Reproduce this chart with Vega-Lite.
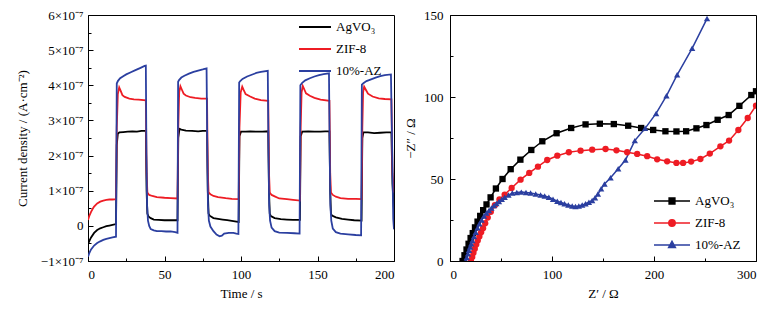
{
"$schema": "https://vega.github.io/schema/vega-lite/v6.json",
"padding": {"left": 15, "top": 8, "right": 5, "bottom": 5},
"bounds": "flush",
"spacing": 56,
"config": {
  "font": "Liberation Serif",
  "view": {"stroke": "#000000", "strokeWidth": 1},
  "axis": {"grid": false, "labelFontSize": 13, "titleFontSize": 13, "titleFontWeight": "normal", "labelColor": "#000", "titleColor": "#000", "domainColor": "#000", "tickColor": "#000", "labelFont": "Liberation Serif", "titleFont": "Liberation Serif"},
  "legend": {"labelFont": "Liberation Serif", "labelFontSize": 13, "labelColor": "#000"}
},
"datasets": {
  "agvo3_it": [
    {"t":0,"j":-0.52e-7},{"t":1,"j":-0.42e-7},{"t":2,"j":-0.33e-7},{"t":4,"j":-0.2e-7},{"t":6,"j":-0.12e-7},{"t":8,"j":-0.07e-7},{"t":10,"j":-0.04e-7},{"t":12,"j":-0.01e-7},{"t":14,"j":0.01e-7},{"t":16,"j":0.03e-7},{"t":18.3,"j":0.05e-7},{"t":18.8,"j":2.3e-7},{"t":19.5,"j":2.62e-7},{"t":20.5,"j":2.66e-7},{"t":23,"j":2.67e-7},{"t":26,"j":2.68e-7},{"t":29,"j":2.69e-7},{"t":32,"j":2.68e-7},{"t":35,"j":2.7e-7},{"t":37.8,"j":2.7e-7},{"t":38.3,"j":1.0e-7},{"t":38.8,"j":0.35e-7},{"t":39.5,"j":0.27e-7},{"t":41,"j":0.22e-7},{"t":43,"j":0.18e-7},{"t":46,"j":0.17e-7},{"t":50,"j":0.16e-7},{"t":54,"j":0.16e-7},{"t":58.5,"j":0.16e-7},
    {"t":59,"j":2.5e-7},{"t":59.8,"j":2.76e-7},{"t":61,"j":2.74e-7},{"t":64,"j":2.71e-7},{"t":68,"j":2.7e-7},{"t":72,"j":2.69e-7},{"t":75,"j":2.7e-7},{"t":77.8,"j":2.7e-7},{"t":78.3,"j":1.0e-7},{"t":78.8,"j":0.35e-7},{"t":79.5,"j":0.29e-7},{"t":82,"j":0.22e-7},{"t":85,"j":0.2e-7},{"t":88,"j":0.18e-7},{"t":91,"j":0.16e-7},{"t":94,"j":0.14e-7},{"t":97,"j":0.12e-7},{"t":98.5,"j":0.11e-7},
    {"t":99,"j":2.55e-7},{"t":100,"j":2.68e-7},{"t":103,"j":2.68e-7},{"t":106,"j":2.69e-7},{"t":110,"j":2.68e-7},{"t":114,"j":2.68e-7},{"t":117.8,"j":2.69e-7},{"t":118.3,"j":1.0e-7},{"t":118.8,"j":0.35e-7},{"t":119.5,"j":0.28e-7},{"t":122,"j":0.22e-7},{"t":126,"j":0.19e-7},{"t":130,"j":0.18e-7},{"t":134,"j":0.17e-7},{"t":138.5,"j":0.17e-7},
    {"t":139,"j":2.55e-7},{"t":140,"j":2.68e-7},{"t":144,"j":2.69e-7},{"t":148,"j":2.68e-7},{"t":152,"j":2.68e-7},{"t":155,"j":2.69e-7},{"t":157.8,"j":2.69e-7},{"t":158.3,"j":1.0e-7},{"t":158.8,"j":0.35e-7},{"t":159.5,"j":0.29e-7},{"t":162,"j":0.24e-7},{"t":166,"j":0.2e-7},{"t":170,"j":0.18e-7},{"t":174,"j":0.16e-7},{"t":178.8,"j":0.15e-7},
    {"t":179.3,"j":2.5e-7},{"t":180,"j":2.66e-7},{"t":183,"j":2.66e-7},{"t":187,"j":2.64e-7},{"t":191,"j":2.65e-7},{"t":195,"j":2.66e-7},{"t":198.3,"j":2.66e-7},{"t":199,"j":1.2e-7},{"t":200,"j":0.4e-7}
  ],
  "zif8_it": [
    {"t":0,"j":0.17e-7},{"t":1,"j":0.3e-7},{"t":2,"j":0.4e-7},{"t":3,"j":0.48e-7},{"t":4,"j":0.55e-7},{"t":6,"j":0.64e-7},{"t":8,"j":0.69e-7},{"t":10,"j":0.72e-7},{"t":12,"j":0.74e-7},{"t":14,"j":0.75e-7},{"t":16,"j":0.75e-7},{"t":18.3,"j":0.76e-7},{"t":18.8,"j":2.8e-7},{"t":19.5,"j":3.75e-7},{"t":20.4,"j":3.94e-7},{"t":21.3,"j":3.85e-7},{"t":22.5,"j":3.72e-7},{"t":24,"j":3.67e-7},{"t":27,"j":3.62e-7},{"t":30,"j":3.6e-7},{"t":33,"j":3.59e-7},{"t":37.8,"j":3.57e-7},{"t":38.3,"j":1.5e-7},{"t":38.8,"j":0.95e-7},{"t":40,"j":0.88e-7},{"t":42,"j":0.85e-7},{"t":45,"j":0.82e-7},{"t":50,"j":0.8e-7},{"t":54,"j":0.79e-7},{"t":58.5,"j":0.78e-7},
    {"t":59,"j":2.8e-7},{"t":59.6,"j":3.8e-7},{"t":60.4,"j":3.97e-7},{"t":61.3,"j":3.88e-7},{"t":62.5,"j":3.76e-7},{"t":64,"j":3.71e-7},{"t":67,"j":3.66e-7},{"t":70,"j":3.64e-7},{"t":74,"j":3.62e-7},{"t":77.8,"j":3.62e-7},{"t":78.3,"j":1.5e-7},{"t":78.8,"j":0.95e-7},{"t":80,"j":0.9e-7},{"t":82,"j":0.85e-7},{"t":85,"j":0.82e-7},{"t":90,"j":0.79e-7},{"t":94,"j":0.77e-7},{"t":98.5,"j":0.76e-7},
    {"t":99,"j":2.8e-7},{"t":99.8,"j":3.8e-7},{"t":100.8,"j":3.96e-7},{"t":101.8,"j":3.86e-7},{"t":103,"j":3.75e-7},{"t":106,"j":3.68e-7},{"t":109,"j":3.62e-7},{"t":113,"j":3.58e-7},{"t":117.8,"j":3.56e-7},{"t":118.3,"j":1.5e-7},{"t":118.8,"j":0.95e-7},{"t":120,"j":0.88e-7},{"t":122,"j":0.84e-7},{"t":125,"j":0.78e-7},{"t":130,"j":0.76e-7},{"t":134,"j":0.74e-7},{"t":138.5,"j":0.72e-7},
    {"t":139,"j":2.8e-7},{"t":139.6,"j":3.8e-7},{"t":140.4,"j":3.98e-7},{"t":141.4,"j":3.88e-7},{"t":142.5,"j":3.77e-7},{"t":145,"j":3.7e-7},{"t":148,"j":3.64e-7},{"t":152,"j":3.59e-7},{"t":157.8,"j":3.56e-7},{"t":158.3,"j":1.5e-7},{"t":158.8,"j":0.95e-7},{"t":160,"j":0.88e-7},{"t":162,"j":0.83e-7},{"t":165,"j":0.79e-7},{"t":170,"j":0.77e-7},{"t":175,"j":0.77e-7},{"t":178.8,"j":0.76e-7},
    {"t":179.3,"j":2.8e-7},{"t":179.8,"j":3.8e-7},{"t":180.5,"j":3.96e-7},{"t":181.5,"j":3.88e-7},{"t":183,"j":3.76e-7},{"t":186,"j":3.68e-7},{"t":190,"j":3.63e-7},{"t":194,"j":3.61e-7},{"t":198.3,"j":3.6e-7},{"t":199,"j":1.5e-7},{"t":200,"j":0.95e-7}
  ],
  "az_it": [
    {"t":0,"j":-0.88e-7},{"t":1,"j":-0.76e-7},{"t":2,"j":-0.67e-7},{"t":4,"j":-0.56e-7},{"t":6,"j":-0.49e-7},{"t":8,"j":-0.44e-7},{"t":10,"j":-0.4e-7},{"t":12,"j":-0.37e-7},{"t":14,"j":-0.35e-7},{"t":16,"j":-0.33e-7},{"t":18.3,"j":-0.31e-7},{"t":18.8,"j":4.05e-7},{"t":19.5,"j":4.12e-7},{"t":21,"j":4.2e-7},{"t":23,"j":4.26e-7},{"t":25,"j":4.31e-7},{"t":28,"j":4.37e-7},{"t":31,"j":4.43e-7},{"t":34,"j":4.49e-7},{"t":37,"j":4.55e-7},{"t":37.8,"j":4.56e-7},{"t":38.2,"j":2.0e-7},{"t":38.6,"j":0.6e-7},{"t":39.2,"j":0.15e-7},{"t":40,"j":0.0},{"t":41,"j":-0.09e-7},{"t":43,"j":-0.13e-7},{"t":45,"j":-0.15e-7},{"t":48,"j":-0.15e-7},{"t":51,"j":-0.16e-7},{"t":54,"j":-0.16e-7},{"t":57,"j":-0.18e-7},{"t":58.5,"j":-0.2e-7},
    {"t":58.9,"j":4.1e-7},{"t":59.5,"j":4.15e-7},{"t":61,"j":4.22e-7},{"t":63,"j":4.27e-7},{"t":66,"j":4.33e-7},{"t":69,"j":4.38e-7},{"t":72,"j":4.42e-7},{"t":75,"j":4.45e-7},{"t":77.5,"j":4.48e-7},{"t":78,"j":2.0e-7},{"t":78.4,"j":0.6e-7},{"t":79,"j":0.15e-7},{"t":80,"j":-0.02e-7},{"t":82,"j":-0.15e-7},{"t":84,"j":-0.25e-7},{"t":86,"j":-0.3e-7},{"t":87.5,"j":-0.28e-7},{"t":89,"j":-0.22e-7},{"t":92,"j":-0.2e-7},{"t":95,"j":-0.2e-7},{"t":97,"j":-0.22e-7},{"t":98.3,"j":-0.23e-7},
    {"t":98.8,"j":4.08e-7},{"t":99.5,"j":4.12e-7},{"t":101,"j":4.18e-7},{"t":104,"j":4.25e-7},{"t":107,"j":4.3e-7},{"t":110,"j":4.35e-7},{"t":113,"j":4.38e-7},{"t":117.5,"j":4.41e-7},{"t":118,"j":2.0e-7},{"t":118.4,"j":0.6e-7},{"t":119,"j":0.15e-7},{"t":120,"j":-0.05e-7},{"t":122,"j":-0.15e-7},{"t":125,"j":-0.19e-7},{"t":130,"j":-0.2e-7},{"t":135,"j":-0.21e-7},{"t":138.3,"j":-0.22e-7},
    {"t":138.8,"j":4.0e-7},{"t":140,"j":4.07e-7},{"t":142,"j":4.14e-7},{"t":145,"j":4.2e-7},{"t":148,"j":4.25e-7},{"t":151,"j":4.29e-7},{"t":154,"j":4.32e-7},{"t":157.5,"j":4.34e-7},{"t":158,"j":2.0e-7},{"t":158.4,"j":0.6e-7},{"t":159,"j":0.15e-7},{"t":160,"j":-0.08e-7},{"t":162,"j":-0.18e-7},{"t":165,"j":-0.22e-7},{"t":170,"j":-0.24e-7},{"t":175,"j":-0.26e-7},{"t":178.5,"j":-0.27e-7},
    {"t":179,"j":4.02e-7},{"t":180,"j":4.06e-7},{"t":182,"j":4.12e-7},{"t":185,"j":4.17e-7},{"t":188,"j":4.22e-7},{"t":191,"j":4.26e-7},{"t":194,"j":4.29e-7},{"t":198,"j":4.31e-7},{"t":198.7,"j":2.5e-7},{"t":199.5,"j":0.2e-7},{"t":200,"j":-0.1e-7}
  ],
  "agvo3_eis": [
    {"zr":12.3,"zi":0},{"zr":14.2,"zi":3.5},{"zr":16.2,"zi":7},{"zr":18.2,"zi":10.5},{"zr":20.2,"zi":14},{"zr":22.3,"zi":17},{"zr":24.5,"zi":20.5},{"zr":27,"zi":24},{"zr":29.6,"zi":27.5},{"zr":32.5,"zi":31},{"zr":35.8,"zi":34.5},{"zr":39.8,"zi":38.8},{"zr":45,"zi":44.2},{"zr":51.5,"zi":50},{"zr":59.5,"zi":56},{"zr":69,"zi":61.8},{"zr":79.7,"zi":67.7},{"zr":90.5,"zi":73},{"zr":104.5,"zi":77.9},{"zr":118.8,"zi":81.1},{"zr":132.9,"zi":83.3},{"zr":146.9,"zi":83.7},{"zr":160.6,"zi":83.5},{"zr":174.7,"zi":82.5},{"zr":187.4,"zi":81.1},{"zr":199.2,"zi":79.9},{"zr":211.2,"zi":79.1},{"zr":222,"zi":79},{"zr":231.5,"zi":79.1},{"zr":241.6,"zi":80.9},{"zr":251.4,"zi":82.9},{"zr":262.4,"zi":86.1},{"zr":273.2,"zi":89},{"zr":283.7,"zi":94.6},{"zr":295.4,"zi":101.2},{"zr":300,"zi":103.5}
  ],
  "zif8_eis": [
    {"zr":20.5,"zi":0},{"zr":21.8,"zi":2.5},{"zr":23,"zi":5},{"zr":24.3,"zi":7.5},{"zr":25.7,"zi":10},{"zr":27.2,"zi":12.5},{"zr":28.8,"zi":15},{"zr":30.5,"zi":17.5},{"zr":32.4,"zi":20},{"zr":34.5,"zi":23},{"zr":37,"zi":26.5},{"zr":40,"zi":30},{"zr":44,"zi":34},{"zr":48.5,"zi":37.5},{"zr":53.6,"zi":40.5},{"zr":60.4,"zi":44.5},{"zr":69.2,"zi":49.6},{"zr":77.7,"zi":53.7},{"zr":86.2,"zi":57.5},{"zr":95.3,"zi":61.6},{"zr":105.2,"zi":64.2},{"zr":116.5,"zi":66.3},{"zr":128,"zi":67.3},{"zr":139.4,"zi":67.9},{"zr":152.5,"zi":68.3},{"zr":163.2,"zi":67.5},{"zr":173.7,"zi":66.3},{"zr":183.5,"zi":65.3},{"zr":193.3,"zi":63.9},{"zr":203.1,"zi":62},{"zr":212.9,"zi":60.8},{"zr":222,"zi":59.8},{"zr":228.5,"zi":59.8},{"zr":236.4,"zi":60.6},{"zr":245.5,"zi":62.2},{"zr":254.7,"zi":65.5},{"zr":265.1,"zi":69.9},{"zr":273.6,"zi":73.4},{"zr":282.7,"zi":79.9},{"zr":291.9,"zi":87.2},{"zr":300,"zi":94.7}
  ],
  "az_eis": [
    {"zr":15.4,"zi":0},{"zr":16.4,"zi":2.2},{"zr":17.6,"zi":4.4},{"zr":18.6,"zi":6.5},{"zr":19.7,"zi":8.5},{"zr":20.8,"zi":10.5},{"zr":22,"zi":12.5},{"zr":23.5,"zi":15},{"zr":25.2,"zi":17.6},{"zr":27,"zi":20.2},{"zr":28.8,"zi":22.7},{"zr":31,"zi":25},{"zr":33.3,"zi":27.4},{"zr":35.7,"zi":29.2},{"zr":38.2,"zi":30.8},{"zr":40.6,"zi":32.3},{"zr":43.1,"zi":33.8},{"zr":45.5,"zi":35.1},{"zr":48,"zi":36.3},{"zr":50.8,"zi":37.6},{"zr":53.6,"zi":38.9},{"zr":57.3,"zi":40.2},{"zr":61.1,"zi":41.4},{"zr":65.5,"zi":41.8},{"zr":69.9,"zi":42},{"zr":74.5,"zi":41.8},{"zr":79,"zi":41.5},{"zr":84,"zi":40.9},{"zr":88.8,"zi":40.3},{"zr":92.8,"zi":39.6},{"zr":96.9,"zi":38.9},{"zr":101,"zi":37.7},{"zr":105.2,"zi":36.5},{"zr":108.8,"zi":35.7},{"zr":112.3,"zi":34.9},{"zr":116,"zi":34.1},{"zr":119.8,"zi":33.5},{"zr":123,"zi":33.3},{"zr":126.3,"zi":33.5},{"zr":129.6,"zi":34.1},{"zr":132.9,"zi":34.9},{"zr":136.2,"zi":35.8},{"zr":139.4,"zi":36.9},{"zr":142.2,"zi":38.5},{"zr":145,"zi":40.8},{"zr":148.2,"zi":44},{"zr":151.5,"zi":47},{"zr":157.4,"zi":50.7},{"zr":164.9,"zi":56.2},{"zr":172,"zi":61.6},{"zr":181.2,"zi":73.4},{"zr":191.3,"zi":80.9},{"zr":202.1,"zi":90},{"zr":212.2,"zi":100.7},{"zr":222.7,"zi":113.5},{"zr":237.4,"zi":129.7},{"zr":252,"zi":147.8}
  ]
},
"resolve": {"scale": {"color": "independent"}, "legend": {"color": "independent"}},
"hconcat": [
  {
    "width": 306, "height": 246,
    "encoding": {
      "x": {"field": "t", "type": "quantitative", "scale": {"domain": [0, 200], "nice": false},
        "axis": {"title": "Time / s", "values": [0,25,50,75,100,125,150,175,200], "labelExpr": "datum.value % 50 === 0 ? datum.label : ''", "tickSize": {"condition": {"test": "datum.value % 50 !== 0", "value": -3}, "value": -5}, "labelPadding": 12, "titlePadding": 6}},
      "y": {"field": "j", "type": "quantitative", "scale": {"domain": [-1e-7, 6e-7], "nice": false},
        "axis": {"title": "Current density / (A·cm⁻²)", "values": [-1e-7,-0.5e-7,0,0.5e-7,1e-7,1.5e-7,2e-7,2.5e-7,3e-7,3.5e-7,4e-7,4.5e-7,5e-7,5.5e-7,6e-7], "labelExpr": "round(datum.value*2e7) % 2 !== 0 ? '' : round(datum.value*1e7) === 0 ? '0' : (datum.value < 0 ? '−' : '') + abs(round(datum.value*1e7)) + '×10⁻⁷'", "tickSize": {"condition": {"test": "round(datum.value*2e7) % 2 !== 0", "value": -3}, "value": -5}, "labelPadding": 10, "titleX": -59}}
    },
    "layer": [
      {"data": {"name": "agvo3_it"}, "mark": {"type": "line", "strokeWidth": 1.8, "clip": true},
       "encoding": {"color": {"datum": "AgVO₃", "scale": {"domain": ["AgVO₃", "ZIF-8", "10%-AZ"], "range": ["#000000", "#ee1c24", "#2b3fa0"]},
         "legend": {"title": null, "orient": "none", "legendX": 218, "legendY": 3, "symbolType": "M-2,0H2", "symbolSize": 256, "symbolStrokeWidth": 2, "labelOffset": 12, "rowPadding": 6, "padding": 0}}}},
      {"data": {"name": "zif8_it"}, "mark": {"type": "line", "strokeWidth": 1.8, "clip": true},
       "encoding": {"color": {"datum": "ZIF-8"}}},
      {"data": {"name": "az_it"}, "mark": {"type": "line", "strokeWidth": 1.8, "clip": true},
       "encoding": {"color": {"datum": "10%-AZ"}}},
      {"mark": {"type": "text", "align": "left", "baseline": "middle", "fontSize": 13, "font": "Liberation Serif", "color": "#000"},
       "encoding": {"x": {"datum": 12}, "y": {"datum": 5.48e-7}, "text": {"value": "(a)"}}}
    ]
  },
  {
    "width": 306, "height": 246,
    "encoding": {
      "x": {"field": "zr", "type": "quantitative", "scale": {"domain": [0, 300], "nice": false},
        "axis": {"title": "Z′ / Ω", "values": [0,50,100,150,200,250,300], "labelExpr": "datum.value % 100 === 0 ? datum.label : ''", "tickSize": {"condition": {"test": "datum.value % 100 !== 0", "value": -3}, "value": -5}, "labelPadding": 12, "titlePadding": 6}},
      "y": {"field": "zi", "type": "quantitative", "scale": {"domain": [0, 150], "nice": false},
        "axis": {"title": "−Z″ / Ω", "values": [0,25,50,75,100,125,150], "labelExpr": "datum.value % 50 === 0 ? datum.label : ''", "tickSize": {"condition": {"test": "datum.value % 50 !== 0", "value": -3}, "value": -5}, "labelPadding": 12, "titleX": -33}}
    },
    "layer": [
      {"data": {"name": "agvo3_eis"}, "mark": {"type": "line", "strokeWidth": 1.5, "clip": true},
       "encoding": {"color": {"datum": "AgVO₃", "scale": {"domain": ["AgVO₃", "ZIF-8", "10%-AZ"], "range": ["#000000", "#ee1c24", "#2b3fa0"]},
         "legend": {"title": null, "orient": "none", "legendX": 213, "legendY": 177, "symbolSize": 256, "labelOffset": 14, "rowPadding": 6, "padding": 0,
           "encode": {"symbols": {"update": {
             "shape": {"signal": "datum.index === 0 ? 'M-2.25,0H2.25M-0.36,-0.36H0.36V0.36H-0.36Z' : datum.index === 1 ? 'M-2.25,0H2.25M0.4,0A0.4,0.4,0,1,1,-0.4,0A0.4,0.4,0,1,1,0.4,0Z' : 'M-2.25,0H2.25M0,-0.45L0.42,0.3H-0.42Z'"},
             "stroke": {"signal": "datum.index === 0 ? '#000000' : datum.index === 1 ? '#ee1c24' : '#2b3fa0'"},
             "fill": {"signal": "datum.index === 0 ? '#000000' : datum.index === 1 ? '#ee1c24' : '#2b3fa0'"},
             "strokeWidth": {"value": 1.5}, "opacity": {"value": 1}, "fillOpacity": {"value": 1}, "strokeOpacity": {"value": 1}}}}}}}},
      {"data": {"name": "zif8_eis"}, "mark": {"type": "line", "strokeWidth": 1.5, "clip": true},
       "encoding": {"color": {"datum": "ZIF-8"}}},
      {"data": {"name": "az_eis"}, "mark": {"type": "line", "strokeWidth": 1.5, "clip": true},
       "encoding": {"color": {"datum": "10%-AZ"}}},
      {"data": {"name": "agvo3_eis"}, "mark": {"type": "point", "shape": "square", "filled": true, "opacity": 1, "size": 40, "clip": true},
       "encoding": {"color": {"datum": "AgVO₃"}}},
      {"data": {"name": "zif8_eis"}, "mark": {"type": "point", "shape": "circle", "filled": true, "opacity": 1, "size": 40, "clip": true},
       "encoding": {"color": {"datum": "ZIF-8"}}},
      {"data": {"name": "az_eis"}, "mark": {"type": "point", "shape": "triangle-up", "filled": true, "opacity": 1, "size": 40, "clip": true},
       "encoding": {"color": {"datum": "10%-AZ"}}},
      {"mark": {"type": "text", "align": "left", "baseline": "middle", "fontSize": 13, "font": "Liberation Serif", "color": "#000"},
       "encoding": {"x": {"datum": 17.3}, "y": {"datum": 139.5}, "text": {"value": "(b)"}}}
    ]
  }
]
}
